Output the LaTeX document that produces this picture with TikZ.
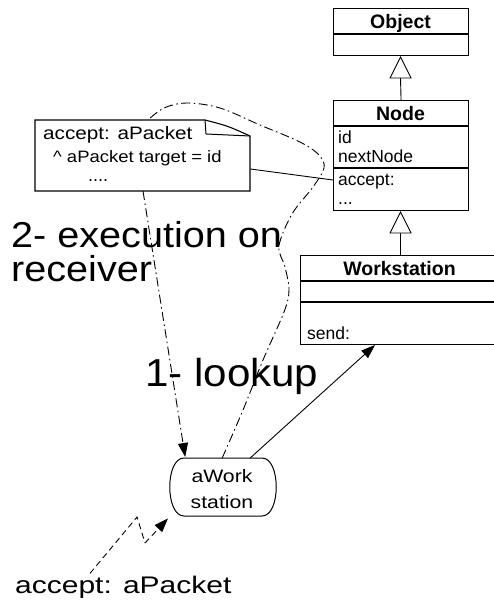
\documentclass[tikz,border=0pt]{standalone}
\usepackage{fontspec}
\setmainfont{Liberation Sans}
\usetikzlibrary{arrows.meta,calc}
\newcommand{\fs}[1]{\fontsize{#1}{#1}\selectfont}
\tikzset{
  umlbox/.style={draw, line width=1.1pt, fill=white, inner sep=0pt, anchor=north west},
  sep/.style={line width=1.1pt},
  txt/.style={inner sep=0pt, anchor=base west},
  ctxt/.style={inner sep=0pt, anchor=base},
  conn/.style={line width=0.9pt},
  dashdot/.style={conn, dash pattern=on 9pt off 3.5pt on 1.5pt off 3.5pt},
  dsh/.style={conn, dash pattern=on 6pt off 4pt},
  head/.style={-{Triangle[length=14pt,width=10pt]}},
}
\begin{document}
\begin{tikzpicture}[x=1pt,y=-1pt]
\useasboundingbox (0,0) rectangle (494,604);
\clip (0,0) rectangle (494,604);
\fill[white] (0,0) rectangle (494,604);

% Object class
\node[umlbox, minimum width=135pt, minimum height=47pt] (object) at (333,8) {};
\draw[sep] (333,34) -- (468,34);
\node[ctxt] (objname) at (400.5,29) {\fs{19.5}\bfseries Object};

% Node class
\node[umlbox, minimum width=135pt, minimum height=110pt] (node) at (333,100) {};
\draw[sep] (333,126) -- (468,126);
\draw[sep] (333,168) -- (468,168);
\node[ctxt] (nodename) at (400.5,121) {\fs{19.5}\bfseries Node};
\node[txt] (id) at (338,143) {\fs{17.5}id};
\node[txt] (next) at (338,163) {\fs{17.5}nextNode};
\node[txt] (acc) at (338,185) {\fs{17.5}accept:};
\node[txt] (dots) at (338,204) {\fs{17.5}...};

% Workstation class
\node[umlbox, minimum width=200pt, minimum height=89pt] (ws) at (300,255) {};
\draw[sep] (300,281) -- (500,281);
\draw[sep] (300,302) -- (500,302);
\node[ctxt] (wsname) at (399.5,275) {\fs{19.5}\bfseries Workstation};
\node[txt] (send) at (307,339) {\fs{17.5}send:};

% generalisation triangles
\coordinate (t1) at (400.5,78);
\draw[conn] (t1) -- (node.north);
\draw[conn, fill=white] (400.5,57) -- (411,78) -- (390,78) -- cycle;
\coordinate (t2) at (400.5,233);
\draw[conn] (t2) -- (ws.north -| t2);
\draw[conn, fill=white] (400.5,212) -- (411,233) -- (390,233) -- cycle;

% note
\draw[line width=1.1pt, fill=white] (35,120) -- (205,120) .. controls (228,126) .. (250,136) -- (250,191) -- (35,191) -- cycle;
\draw[line width=1pt] (205,120) -- (206,134) -- (250,136);
\node[inner sep=0pt, minimum width=215pt, minimum height=71pt, anchor=north west] (note) at (35,120) {};
\node[txt] (n1) at (43,140) {\fs{18}\scalebox{1.15}[1]{accept: aPacket}};
\node[txt] (n2) at (53,162) {\fs{16.5}\scalebox{1.12}[1]{\^{} aPacket target = id}};
\node[txt] (n3) at (88,182) {\fs{18}....};
\draw[conn] (note.east |- 0,169) -- (node.west |- 0,180);

% big labels
\node[txt] (exec1) at (11,247) {\fs{36}\scalebox{1.1}[1]{2- execution on}};
\node[txt] (exec2) at (11,281) {\fs{36}\scalebox{1.1}[1]{receiver}};
\node[txt] (lookup) at (145,386) {\fs{39}\scalebox{1.08}[1]{1- lookup}};

% aWorkstation
\node[inner sep=0pt, minimum width=110pt, minimum height=58pt, anchor=north west] (aws) at (168,458) {};
\draw[line width=1pt, fill=white] (184,458) -- (262,458) .. controls (281,458) and (281,516) .. (262,516) -- (184,516) .. controls (165,516) and (165,458) .. (184,458) -- cycle;
\node[ctxt] (aw1) at (222,482) {\fs{18}\scalebox{1.18}[1]{aWork}};
\node[ctxt] (aw2) at (222,508) {\fs{18}\scalebox{1.18}[1]{station}};

% connectors
\coordinate (wsend) at (375,345);
\draw[conn, head] ($(aws.north)+(27,0)$) -- (wsend);
\coordinate (notebot) at (143,191);
\draw[dashdot, head] (notebot) -- ($(aws.north)+(-38,-1)$);
\coordinate (loopend) at (148,120);
\draw[dashdot] plot[smooth, tension=0.55] coordinates {($(aws.north)+(-1,0)$) (243,410) (263,360) (284,312) (289,290) (285,267) (279,246) (292,214) (313,187) (324,168) (319,155) (300,142) (260,125) (220,108) (187,103) (164,108) (loopend)};

% incoming message
\node[txt] (msg) at (15,593) {\fs{24}\scalebox{1.25}[1]{accept: aPacket}};
\coordinate (z1) at (137,517);
\coordinate (z2) at (145,543);
\draw[dsh] ($(msg.north west)+(75,-2)$) -- (z1) -- (z2);
\draw[dsh, head] (z2) -- ($(aws.south west)+(0,2)$);
\end{tikzpicture}
\end{document}
